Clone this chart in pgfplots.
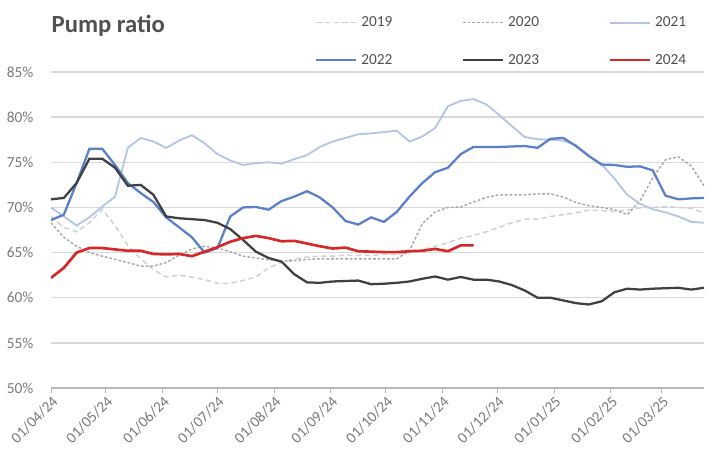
\documentclass[border=0pt]{standalone}
\usepackage{fontspec}
\setmainfont{Carlito}
\usepackage{pgfplots}
\usepackage{pgfplotstable}
\pgfplotsset{compat=1.18}
\definecolor{c19}{HTML}{D0D0D0}
\definecolor{c20}{HTML}{A8A8A8}
\definecolor{c21}{HTML}{B4C6E7}
\definecolor{c22}{HTML}{5B80C9}
\definecolor{c23}{HTML}{404040}
\definecolor{c24}{HTML}{D62828}
\definecolor{gridc}{HTML}{D9D9D9}
\definecolor{txtc}{HTML}{7A7A7A}
\definecolor{titc}{HTML}{505050}

\pgfplotstableread{
d   y19   y20   y21   y22   y23   y24
0   69.0  68.3  70.0  68.6  70.9  62.2
7   67.8  66.7  69.0  69.2  71.05 63.3
14  67.3  65.7  68.0  72.7  72.7  65.0
21  68.3  65.0  68.9  76.5  75.4  65.5
28  69.8  64.6  70.1  76.5  75.4  65.5
35  68.0  64.25 71.2  74.7  74.4  65.35
42  65.8  63.9  76.6  72.7  72.4  65.2
49  64.3  63.5  77.7  71.6  72.5  65.2
56  63.1  63.5  77.3  70.6  71.4  64.85
63  62.3  63.9  76.6  68.9  69.0  64.8
70  62.5  64.7  77.4  67.8  68.8  64.85
77  62.3  65.4  78.0  66.7  68.7  64.6
84  62.0  65.7  77.1  65.0  68.6  65.1
91  61.6  65.5  75.9  65.5  68.3  65.6
98  61.6  65.1  75.2  69.0  67.6  66.2
105 61.9  64.6  74.7  70.0  66.4  66.6
112 62.3  64.4  74.9  70.05 65.1  66.85
119 63.3  64.2  75.0  69.75 64.4  66.6
126 63.9  64.05 74.85 70.7  64.0  66.25
133 64.3  64.1  75.35 71.2  62.6  66.3
140 64.5  64.25 75.8  71.8  61.7  66.0
147 64.6  64.3  76.7  71.1  61.65 65.7
154 64.6  64.3  77.3  70.0  61.8  65.45
161 64.7  64.3  77.7  68.5  61.85 65.55
168 64.7  64.3  78.1  68.1  61.9  65.15
175 64.7  64.3  78.2  68.9  61.5  65.1
182 64.8  64.3  78.35 68.4  61.55 65.05
189 64.8  64.3  78.5  69.5  61.65 65.05
196 65.0  65.2  77.3  71.2  61.8  65.15
203 65.3  68.2  77.85 72.7  62.1  65.2
210 65.7  69.5  78.8  73.9  62.35 65.4
217 66.1  70.0  81.2  74.4  62.0  65.15
224 66.6  70.05 81.8  75.9  62.3  65.8
231 66.9  70.6  82.0  76.7  62.0  65.8
238 67.3  71.1  81.4  76.7  62.0  nan
245 67.8  71.4  80.25 76.7  61.8  nan
252 68.3  71.4  79.0  76.75 61.4  nan
259 68.7  71.4  77.8  76.8  60.8  nan
266 68.7  71.5  77.55 76.6  60.0  nan
273 69.0  71.5  77.5  77.6  60.0  nan
280 69.2  71.15 77.4  77.7  59.7  nan
287 69.4  70.55 76.9  76.8  59.4  nan
294 69.7  70.2  75.7  75.7  59.25 nan
301 69.65 70.0  74.8  74.75 59.6  nan
308 69.55 69.75 73.2  74.7  60.6  nan
315 69.7  69.2  71.4  74.5  61.0  nan
322 69.95 70.7  70.4  74.55 60.9  nan
329 70.0  73.3  69.8  74.1  61.0  nan
336 70.1  75.3  69.45 71.3  61.05 nan
343 70.0  75.6  69.0  70.9  61.1  nan
350 69.9  74.6  68.4  71.0  60.9  nan
357 69.4  72.4  68.3  71.05 61.1  nan
}\data

\begin{document}
\begin{tikzpicture}
\useasboundingbox (-38.25pt,-52.5pt) rectangle (492.75pt,291pt);
\begin{axis}[
  at={(0pt,0pt)}, anchor=south west,
  scale only axis, width=489.75pt, height=237pt,
  xmin=0, xmax=357, ymin=50, ymax=85,
  axis x line*=bottom, axis y line*=left,
  y axis line style={draw=none},
  x axis line style={draw=gridc!85!black, line width=0.8pt},
  ytick={50,55,...,85},
  yticklabel={\pgfmathprintnumber{\tick}\%},
  ytick style={draw=none},
  xtick={0,30,61,91,122,153,183,214,244,275,306,334},
  xticklabels={01/04/24,01/05/24,01/06/24,01/07/24,01/08/24,01/09/24,01/10/24,01/11/24,01/12/24,01/01/25,01/02/25,01/03/25},
  tick align=outside,
  xtick style={draw=gridc!85!black, line width=0.7pt},
  major tick length=3.75pt,
  xticklabel style={rotate=45, anchor=north east, inner sep=1pt, text=txtc, font=\fontsize{11.5}{13}\selectfont},
  yticklabel style={text=txtc, font=\fontsize{11.5}{13}\selectfont, xshift=-6pt},
  /pgf/number format/assume math mode=true,
  ymajorgrids, major grid style={draw=gridc, line width=1.1pt},
  unbounded coords=jump,
  legend columns=3,
  legend image code/.code={\draw[#1] (0pt,0pt) -- (30pt,0pt);},
  legend style={at={(0.404,1.184)}, anchor=north west, draw=none, fill=none, inner sep=0pt,
    font=\fontsize{11.5}{13}\selectfont, text=titc,
    /tikz/every even column/.append style={column sep=50pt},
    /tikz/every odd column/.append style={column sep=1pt},
    row sep=15pt},
]
\addplot[c19, line width=1.1pt, dash pattern=on 4pt off 2.5pt] table[x=d,y=y19]{\data};
\addlegendentry{2019}
\addplot[c20, line width=1.1pt, dash pattern=on 2pt off 1.5pt] table[x=d,y=y20]{\data};
\addlegendentry{2020}
\addplot[c21, line width=1.4pt] table[x=d,y=y21]{\data};
\addlegendentry{2021}
\addplot[c22, line width=1.7pt] table[x=d,y=y22]{\data};
\addlegendentry{2022}
\addplot[c23, line width=1.7pt] table[x=d,y=y23]{\data};
\addlegendentry{2023}
\addplot[c24, line width=2pt] table[x=d,y=y24]{\data};
\addlegendentry{2024}
\end{axis}
\node[anchor=west, text=titc, font=\bfseries\fontsize{18.5}{20}\selectfont] at (-3pt,271.5pt) {Pump ratio};
\end{tikzpicture}
\end{document}
